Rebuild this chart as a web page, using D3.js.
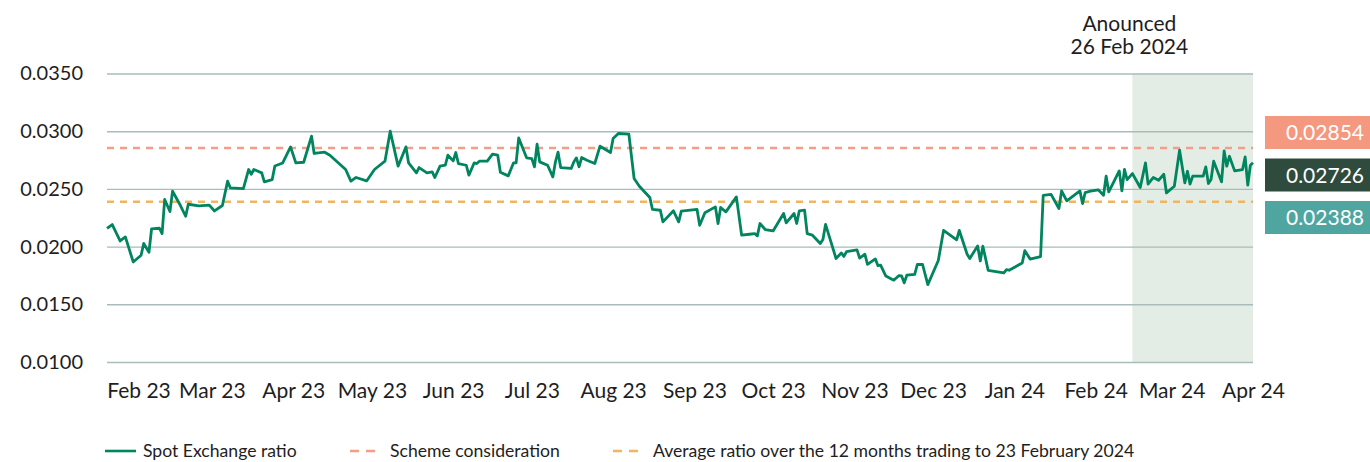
<!DOCTYPE html>
<html>
<head>
<meta charset="utf-8">
<script src="https://cdn.jsdelivr.net/npm/d3@7"></script>
<style>
  body { margin: 0; background: #fff; }
  svg text { font-family: Lato, "Noto Sans", sans-serif; fill: #1e1e1e; }
</style>
</head>
<body>
<div id="chart"></div>
<script>
// data
var dates = [
  "2023-02-03","2023-02-05","2023-02-08","2023-02-10","2023-02-13","2023-02-16","2023-02-17","2023-02-19","2023-02-20","2023-02-23",
  "2023-02-24","2023-02-25","2023-02-27","2023-02-28","2023-03-03","2023-03-05","2023-03-06","2023-03-10","2023-03-14","2023-03-16",
  "2023-03-19","2023-03-21","2023-03-22","2023-03-27","2023-03-29","2023-03-30","2023-03-31","2023-04-03","2023-04-04","2023-04-07",
  "2023-04-08","2023-04-11","2023-04-14","2023-04-16","2023-04-19","2023-04-22","2023-04-23","2023-04-27","2023-04-29","2023-05-05",
  "2023-05-07","2023-05-09","2023-05-13","2023-05-16","2023-05-20","2023-05-22","2023-05-25","2023-05-28","2023-05-29","2023-06-01",
  "2023-06-02","2023-06-05","2023-06-07","2023-06-08","2023-06-10","2023-06-12","2023-06-13","2023-06-15","2023-06-16","2023-06-17",
  "2023-06-20","2023-06-21","2023-06-23","2023-06-24","2023-06-25","2023-06-28","2023-06-30","2023-07-02","2023-07-03","2023-07-06",
  "2023-07-08","2023-07-09","2023-07-10","2023-07-13","2023-07-15","2023-07-16","2023-07-17","2023-07-18","2023-07-21","2023-07-23",
  "2023-07-24","2023-07-25","2023-07-26","2023-07-30","2023-07-31","2023-08-01","2023-08-02","2023-08-03","2023-08-05","2023-08-08",
  "2023-08-10","2023-08-14","2023-08-15","2023-08-17","2023-08-21","2023-08-23","2023-08-25","2023-08-29","2023-08-30","2023-09-02",
  "2023-09-03","2023-09-07","2023-09-09","2023-09-10","2023-09-16","2023-09-17","2023-09-19","2023-09-23","2023-09-24","2023-09-25",
  "2023-09-27","2023-10-01","2023-10-03","2023-10-06","2023-10-08","2023-10-09","2023-10-10","2023-10-12","2023-10-15","2023-10-19",
  "2023-10-20","2023-10-23","2023-10-24","2023-10-25","2023-10-27","2023-10-28","2023-10-30","2023-11-02","2023-11-03","2023-11-04",
  "2023-11-08","2023-11-10","2023-11-11","2023-11-12","2023-11-16","2023-11-17","2023-11-19","2023-11-20","2023-11-23","2023-11-24",
  "2023-11-25","2023-11-27","2023-11-30","2023-12-02","2023-12-03","2023-12-04","2023-12-05","2023-12-08","2023-12-09","2023-12-11",
  "2023-12-13","2023-12-17","2023-12-19","2023-12-24","2023-12-25","2023-12-28","2023-12-29","2024-01-01","2024-01-02","2024-01-03",
  "2024-01-05","2024-01-11","2024-01-12","2024-01-13","2024-01-18","2024-01-19","2024-01-21","2024-01-25","2024-01-26","2024-01-29",
  "2024-02-01","2024-02-02","2024-02-04","2024-02-09","2024-02-10","2024-02-11","2024-02-13","2024-02-16","2024-02-18","2024-02-19",
  "2024-02-20","2024-02-24","2024-02-25","2024-02-26","2024-02-27","2024-02-29","2024-03-03","2024-03-05","2024-03-06","2024-03-08",
  "2024-03-10","2024-03-12","2024-03-13","2024-03-16","2024-03-18","2024-03-20","2024-03-21","2024-03-22","2024-03-23","2024-03-27",
  "2024-03-28","2024-03-29","2024-03-30","2024-03-31","2024-04-03","2024-04-04","2024-04-05","2024-04-06","2024-04-08","2024-04-11",
  "2024-04-12","2024-04-13","2024-04-14","2024-04-15"
];
var ratio = [
  0.02157,0.02191,0.02049,0.02084,0.01867,0.01925,0.02027,0.01951,0.02153,0.02159,
  0.02113,0.02408,0.02304,0.02480,0.02356,0.02263,0.02367,0.02353,0.02359,0.02309,
  0.02356,0.02567,0.02509,0.02503,0.02668,0.02627,0.02668,0.02639,0.02561,0.02581,
  0.02699,0.02725,0.02864,0.02725,0.02731,0.02957,0.02807,0.02818,0.02792,0.02668,
  0.02567,0.02599,0.02569,0.02668,0.02740,0.03000,0.02697,0.02864,0.02725,0.02639,
  0.02685,0.02639,0.02647,0.02599,0.02697,0.02705,0.02792,0.02743,0.02815,0.02720,
  0.02705,0.02619,0.02725,0.02720,0.02740,0.02740,0.02801,0.02792,0.02645,0.02613,
  0.02725,0.02725,0.02942,0.02769,0.02763,0.02691,0.02887,0.02734,0.02705,0.02604,
  0.02734,0.02818,0.02685,0.02677,0.02734,0.02769,0.02691,0.02772,0.02749,0.02720,
  0.02870,0.02815,0.02937,0.02980,0.02974,0.02590,0.02523,0.02425,0.02322,0.02315,
  0.02214,0.02310,0.02214,0.02307,0.02322,0.02185,0.02293,0.02344,0.02200,0.02339,
  0.02301,0.02431,0.02099,0.02107,0.02113,0.02093,0.02200,0.02148,0.02136,0.02287,
  0.02205,0.02287,0.02200,0.02310,0.02316,0.02113,0.02099,0.02027,0.02062,0.02192,
  0.01897,0.01945,0.01915,0.01957,0.01972,0.01900,0.01934,0.01846,0.01893,0.01835,
  0.01840,0.01745,0.01709,0.01749,0.01746,0.01686,0.01752,0.01760,0.01845,0.01845,
  0.01671,0.01880,0.02140,0.02059,0.02140,0.01934,0.01897,0.02006,0.01876,0.02003,
  0.01795,0.01772,0.01801,0.01795,0.01858,0.01965,0.01892,0.01914,0.02444,0.02452,
  0.02330,0.02482,0.02396,0.02483,0.02373,0.02467,0.02480,0.02492,0.02445,0.02610,
  0.02474,0.02656,0.02483,0.02668,0.02581,0.02633,0.02512,0.02725,0.02541,0.02599,
  0.02575,0.02627,0.02465,0.02523,0.02835,0.02552,0.02653,0.02541,0.02610,0.02610,
  0.02691,0.02547,0.02581,0.02740,0.02561,0.02829,0.02697,0.02783,0.02656,0.02668,
  0.02777,0.02532,0.02705,0.02726
];
var monthTicks = ["2023-02-15","2023-03-15","2023-04-15","2023-05-15","2023-06-15","2023-07-15","2023-08-15",
  "2023-09-15","2023-10-15","2023-11-15","2023-12-15","2024-01-15","2024-02-15","2024-03-15","2024-04-15"];
var yTicks = [0.010, 0.015, 0.020, 0.025, 0.030, 0.035];
var schemeValue = 0.02854;
var averageValue = 0.02388;
var latestValue = 0.02726;
var shadeStart = "2024-02-29";
var annotation = ["Anounced", "26 Feb 2024"];
var legendItems = ["Spot Exchange ratio", "Scheme consideration", "Average ratio over the 12 months trading to 23 February 2024"];

(function(){
    var W = 1370, H = 462;
    var plotL = 107, plotR = 1253, plotT = 73.5, plotB = 362;
    var GREEN = "#00855f", SALMON = "#f59d86", AMBER = "#efb55f";

    var parse = d3.utcParse("%Y-%m-%d");
    var points = dates.map(function(d, i){ return { date: parse(d), value: ratio[i] }; });

    var x = d3.scaleUtc()
        .domain([parse(dates[0]), parse(dates[dates.length - 1])])
        .range([plotL, plotR]);
    var y = d3.scaleLinear().domain([0.010, 0.035]).range([plotB, plotT]);

    var svg = d3.select("#chart").append("svg")
        .attr("width", W).attr("height", H);

    // shaded period after announcement
    svg.append("rect")
        .attr("x", x(parse(shadeStart)))
        .attr("y", y(0.035))
        .attr("width", plotR - x(parse(shadeStart)))
        .attr("height", y(0.010) - y(0.035))
        .attr("fill", "#e3ede6");

    // gridlines + y labels
    var yAxis = svg.append("g")
        .attr("transform", "translate(" + plotL + ",0)")
        .call(d3.axisLeft(y).tickValues(yTicks).tickSize(-(plotR - plotL)).tickPadding(24).tickFormat(d3.format(".4f")));
    yAxis.select(".domain").remove();
    yAxis.selectAll("line").attr("stroke", "#a9bbbb").attr("stroke-width", 1.4);
    yAxis.selectAll("text").attr("font-size", 20).attr("fill", "#1e1e1e");

    // x labels
    var xAxis = svg.append("g")
        .attr("transform", "translate(0," + plotB + ")")
        .call(d3.axisBottom(x).tickValues(monthTicks.map(parse)).tickSize(0).tickPadding(21).tickFormat(d3.utcFormat("%b %y")));
    xAxis.select(".domain").remove();
    xAxis.selectAll("text").attr("font-size", 21).attr("fill", "#1e1e1e");

    // reference lines
    [[schemeValue, SALMON], [averageValue, AMBER]].forEach(function(r){
        svg.append("line")
            .attr("x1", plotL).attr("x2", plotR)
            .attr("y1", y(r[0])).attr("y2", y(r[0]))
            .attr("stroke", r[1]).attr("stroke-width", 2.5)
            .attr("stroke-dasharray", "7,6");
    });

    // spot ratio line
    svg.append("path")
        .datum(points)
        .attr("fill", "none")
        .attr("stroke", GREEN)
        .attr("stroke-width", 2.8)
        .attr("stroke-linejoin", "round")
        .attr("d", d3.line().x(function(d){ return x(d.date); }).y(function(d){ return y(d.value); }));

    // announcement label
    var annX = x(parse(shadeStart)) - 3;
    svg.selectAll(".ann").data(annotation).enter().append("text")
        .attr("class", "ann")
        .attr("x", annX)
        .attr("y", function(d, i){ return 31 + i * 23; })
        .attr("text-anchor", "middle")
        .attr("font-size", 21)
        .text(function(d){ return d; });

    // value callouts on the right
    var callouts = [
        { value: schemeValue, fill: "#f4987f" },
        { value: latestValue, fill: "#2e4b3e" },
        { value: averageValue, fill: "#4fa6a0" }
    ];
    var boxes = svg.selectAll(".callout").data(callouts).enter().append("g")
        .attr("class", "callout")
        .attr("transform", function(d, i){ return "translate(1265," + (116 + i * 42.5) + ")"; });
    boxes.append("rect").attr("width", 105).attr("height", 33).attr("fill", function(d){ return d.fill; });
    boxes.append("text")
        .attr("x", 99).attr("y", 24)
        .attr("text-anchor", "end")
        .attr("font-size", 21)
        .style("fill", "#fff")
        .text(function(d){ return d3.format(".5f")(d.value); });

    // legend
    var legendX = [105, 350, 613];
    var legendStyle = [
        { color: GREEN, dash: null },
        { color: SALMON, dash: "9,7" },
        { color: AMBER, dash: "9,7" }
    ];
    var legend = svg.selectAll(".legend").data(legendItems).enter().append("g")
        .attr("class", "legend")
        .attr("transform", function(d, i){ return "translate(" + legendX[i] + ",451)"; });
    legend.append("line")
        .attr("x1", 0).attr("x2", function(d, i){ return i === 0 ? 31 : 28; })
        .attr("stroke", function(d, i){ return legendStyle[i].color; })
        .attr("stroke-width", 2.6)
        .attr("stroke-dasharray", function(d, i){ return legendStyle[i].dash; });
    legend.append("text")
        .attr("x", function(d, i){ return i === 0 ? 38 : 40; })
        .attr("y", 6)
        .attr("font-size", 17.6)
        .text(function(d){ return d; });
})();
</script>
</body>
</html>
